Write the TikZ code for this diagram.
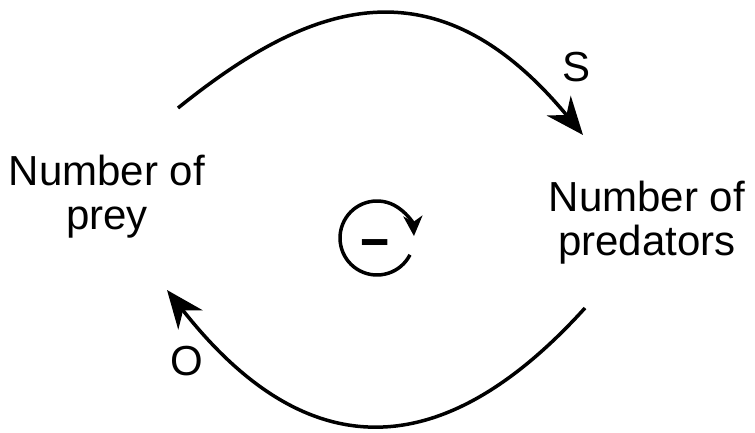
\documentclass[tikz,border=0pt]{standalone}
\usepackage{fontspec}
\setmainfont{Liberation Sans}
\usetikzlibrary{arrows.meta}
\begin{document}
\begin{tikzpicture}[x=1pt,y=-1pt,
  lbl/.style={font=\fontsize{42}{44}\selectfont, align=center, inner sep=0pt},
  link/.style={line width=3.5pt, -{Stealth[length=38pt,width=31pt,inset=12pt]}},
  loopar/.style={line width=3.5pt, -{Stealth[length=20pt,width=19pt,inset=6pt]}}]
\useasboundingbox (0,0) rectangle (755,433);
\fill[white] (0,0) rectangle (755,433);
\node[lbl] (prey) at (107,197) {Number of\\prey};
\node[lbl] (pred) at (647,223) {Number of\\predators};
\coordinate (t0) at (178,108);
\coordinate (t1) at (583,135);
\coordinate (b0) at (585,308);
\coordinate (b1) at (167,290);
\draw[link] (t0) .. controls (300,10) and (430,-50) .. (t1);
\draw[link] (b0) .. controls (450,457) and (313,476) .. (b1);
\node[lbl, anchor=base] (s) at (577,82) {S};
\node[lbl, anchor=base] (o) at (187,375) {O};
\coordinate (cc) at (377,238);
\draw[loopar] ([shift={(27:37)}]cc) arc (27:357:37);
\node[inner sep=0pt, anchor=base] (minus) at (375,255) {\fontsize{50}{50}\selectfont\scalebox{2}[1]{\bfseries -}};
\end{tikzpicture}
\end{document}
